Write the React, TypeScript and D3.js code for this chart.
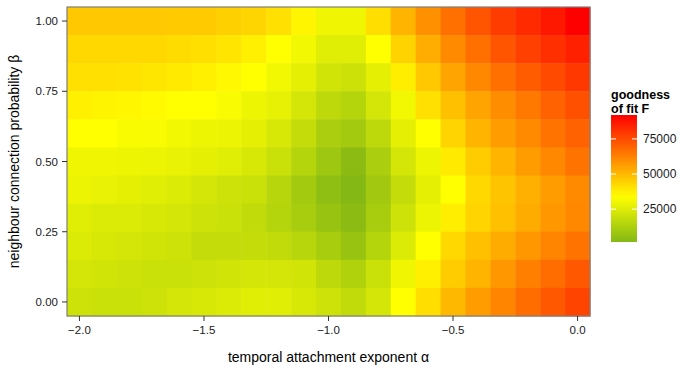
import { useEffect, useRef } from 'react';
import * as d3 from 'd3';

// temporal attachment exponent (columns) and neighbour connection probability (rows)
const alphas = [-2.0, -1.9, -1.8, -1.7, -1.6, -1.5, -1.4, -1.3, -1.2, -1.1, -1.0, -0.9, -0.8, -0.7, -0.6, -0.5, -0.4, -0.3, -0.2, -0.1, 0.0];
const betas = [1.0, 0.9, 0.8, 0.7, 0.6, 0.5, 0.4, 0.3, 0.2, 0.1, 0.0];

// goodness of fit F, one row per beta (same order as betas)
const fitRows = [
  [46500, 46500, 46500, 46500, 46000, 46000, 44700, 43500, 41000, 36300, 30000, 30000, 41500, 51000, 59200, 66500, 72700, 78400, 82400, 86500, 92000],
  [42900, 42900, 42900, 42900, 42000, 41200, 40000, 37700, 34000, 30500, 25800, 25800, 34000, 44000, 52400, 60600, 66500, 72700, 77500, 81200, 84700],
  [41000, 41000, 40500, 39600, 38800, 37400, 35500, 34000, 30500, 26900, 21500, 20500, 26900, 37900, 46500, 54700, 61100, 66500, 71100, 75200, 79300],
  [37400, 36500, 36100, 35100, 34000, 34000, 32100, 29500, 27800, 22600, 16800, 14200, 22600, 30500, 41000, 48300, 54700, 60000, 64700, 69700, 73800],
  [34000, 34000, 32500, 32100, 30500, 29500, 29000, 26900, 23700, 18400, 12000, 10000, 16800, 26900, 34000, 43800, 51000, 56500, 60600, 65600, 69700],
  [30000, 30000, 29500, 29000, 28200, 26900, 25800, 23700, 19800, 14200, 8300, 3600, 12000, 22600, 29500, 38800, 45600, 51000, 56500, 61100, 65600],
  [29000, 28200, 26900, 25800, 24800, 22600, 20800, 19800, 15300, 10000, 4600, 1600, 9500, 18400, 26900, 34000, 42900, 47400, 52000, 56500, 60600],
  [25800, 24800, 24800, 23700, 22600, 20800, 19800, 17600, 14200, 11200, 6800, 3600, 11200, 20800, 29000, 37900, 43800, 48300, 52900, 57400, 61100],
  [24800, 23700, 22600, 21500, 20800, 18400, 18400, 18400, 17600, 15300, 11200, 6800, 14200, 24800, 34000, 42900, 48300, 52900, 57400, 62000, 65600],
  [22600, 21500, 20800, 19800, 19800, 20800, 21500, 22600, 22600, 21500, 16500, 13300, 19800, 30000, 37400, 45600, 51000, 57400, 63000, 67400, 72000],
  [20800, 19800, 19800, 20800, 22600, 23700, 24800, 25800, 25800, 23700, 20800, 17600, 22600, 34000, 41500, 50100, 56500, 62000, 67400, 72000, 76500],
];

const xTicks = [-2.0, -1.5, -1.0, -0.5, 0.0];
const yTicks = [0, 0.25, 0.5, 0.75, 1.0];
const legendTicks = [25000, 50000, 75000];

export default function App() {
  const svgRef = useRef(null);

  useEffect(() => {
    if (!svgRef.current) return;
    const svg = d3.select(svgRef.current);
    svg.selectAll('*').remove();

    const font = 'Liberation Sans, Arial, sans-serif';
    const panel = { left: 67, right: 590, top: 7, bottom: 316 };

    const x = d3.scaleLinear().domain([-2.05, 0.05]).range([panel.left, panel.right]);
    const y = d3.scaleLinear().domain([-0.05, 1.05]).range([panel.bottom, panel.top]);

    const cells = [];
    betas.forEach((b, i) => alphas.forEach((a, j) => cells.push({ a, b, v: fitRows[i][j] })));
    const vMin = d3.min(cells, d => d.v);
    const vMax = d3.max(cells, d => d.v);

    const color = d3.scaleLinear()
      .domain([vMin, 34000, vMax])
      .range(['#84b814', '#ffff00', '#ff0000'])
      .clamp(true);

    // heatmap cells
    svg.append('g')
      .selectAll('rect')
      .data(cells)
      .enter()
      .append('rect')
      .attr('x', d => x(d.a - 0.05))
      .attr('y', d => y(d.b + 0.05))
      .attr('width', d => x(d.a + 0.05) - x(d.a - 0.05) + 0.5)
      .attr('height', d => y(d.b - 0.05) - y(d.b + 0.05) + 0.5)
      .attr('fill', d => color(d.v));

    // panel border
    svg.append('rect')
      .attr('x', panel.left)
      .attr('y', panel.top)
      .attr('width', panel.right - panel.left)
      .attr('height', panel.bottom - panel.top)
      .attr('fill', 'none')
      .attr('stroke', '#7f7f7f')
      .attr('stroke-width', 1.2);

    // x axis
    const xAxis = svg.append('g');
    xAxis.selectAll('line')
      .data(xTicks)
      .enter()
      .append('line')
      .attr('x1', d => x(d)).attr('x2', d => x(d))
      .attr('y1', panel.bottom).attr('y2', panel.bottom + 5)
      .attr('stroke', '#333').attr('stroke-width', 1);
    xAxis.selectAll('text')
      .data(xTicks)
      .enter()
      .append('text')
      .attr('x', d => x(d))
      .attr('y', panel.bottom + 18)
      .attr('text-anchor', 'middle')
      .style('font-family', font)
      .style('font-size', '11.5px')
      .style('fill', '#1a1a1a')
      .text(d => d3.format('.1f')(d));

    // y axis
    const yAxis = svg.append('g');
    yAxis.selectAll('line')
      .data(yTicks)
      .enter()
      .append('line')
      .attr('x1', panel.left - 5).attr('x2', panel.left)
      .attr('y1', d => y(d)).attr('y2', d => y(d))
      .attr('stroke', '#333').attr('stroke-width', 1);
    yAxis.selectAll('text')
      .data(yTicks)
      .enter()
      .append('text')
      .attr('x', panel.left - 9)
      .attr('y', d => y(d))
      .attr('dy', '0.35em')
      .attr('text-anchor', 'end')
      .style('font-family', font)
      .style('font-size', '11.5px')
      .style('fill', '#1a1a1a')
      .text(d => d3.format('.2f')(d));

    // axis titles
    svg.append('text')
      .attr('x', (panel.left + panel.right) / 2)
      .attr('y', 362)
      .attr('text-anchor', 'middle')
      .style('font-family', font)
      .style('font-size', '14px')
      .style('fill', '#000')
      .text('temporal attachment exponent α');

    svg.append('text')
      .attr('transform', `translate(19,${(panel.top + panel.bottom) / 2}) rotate(-90)`)
      .attr('text-anchor', 'middle')
      .style('font-family', font)
      .style('font-size', '14px')
      .style('fill', '#000')
      .text('neighbour connection probability β');

    // legend
    const lg = { x: 611, w: 26, top: 115, bottom: 242 };
    const ly = d3.scaleLinear().domain([vMin, vMax]).range([lg.bottom, lg.top]);

    const defs = svg.append('defs');
    const grad = defs.append('linearGradient')
      .attr('id', 'fit-grad')
      .attr('x1', 0).attr('y1', 1).attr('x2', 0).attr('y2', 0);
    d3.range(0, 1.0001, 0.05).forEach(t => {
      grad.append('stop')
        .attr('offset', `${t * 100}%`)
        .attr('stop-color', color(vMin + t * (vMax - vMin)));
    });

    svg.append('text')
      .attr('x', lg.x)
      .attr('y', 99)
      .style('font-family', font)
      .style('font-size', '12.5px')
      .style('font-weight', 'bold')
      .text('goodness');
    svg.append('text')
      .attr('x', lg.x)
      .attr('y', 113)
      .style('font-family', font)
      .style('font-size', '12.5px')
      .style('font-weight', 'bold')
      .text('of fit F');

    svg.append('rect')
      .attr('x', lg.x)
      .attr('y', lg.top)
      .attr('width', lg.w)
      .attr('height', lg.bottom - lg.top)
      .attr('fill', 'url(#fit-grad)');

    const lt = svg.append('g');
    legendTicks.forEach(v => {
      lt.append('line')
        .attr('x1', lg.x).attr('x2', lg.x + 5)
        .attr('y1', ly(v)).attr('y2', ly(v))
        .attr('stroke', '#fff').attr('stroke-width', 1);
      lt.append('line')
        .attr('x1', lg.x + lg.w - 5).attr('x2', lg.x + lg.w)
        .attr('y1', ly(v)).attr('y2', ly(v))
        .attr('stroke', '#fff').attr('stroke-width', 1);
      lt.append('text')
        .attr('x', lg.x + lg.w + 6)
        .attr('y', ly(v))
        .attr('dy', '0.35em')
        .style('font-family', font)
        .style('font-size', '12px')
        .style('fill', '#1a1a1a')
        .text(v);
    });
  }, []);

  return (
    <div style={{ position: 'absolute', left: 0, top: 0 }}>
      <svg ref={svgRef} width={685} height={368} style={{ display: 'block', background: '#fff' }}></svg>
    </div>
  );
}
